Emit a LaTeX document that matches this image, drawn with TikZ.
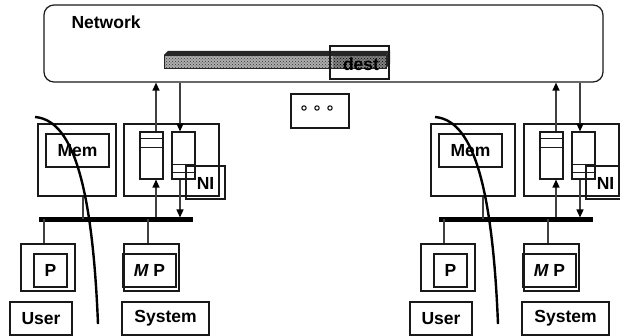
\documentclass[tikz,border=0pt]{standalone}
\usepackage{fontspec}
\setmainfont{Liberation Sans}
\usetikzlibrary{arrows.meta,patterns,calc}

\tikzset{
  box/.style={draw=black!90, line width=1.1pt, inner sep=0pt},
  lbl/.style={font=\fontsize{17.5}{20}\selectfont\bfseries},
  wire/.style={draw=black!75, line width=1.2pt},
  tipped/.style={wire, arrows={-{Triangle[length=8pt,width=7pt,color=black]}}},
  busline/.style={line width=4.5pt, draw=black},
  flow/.style={line width=2.4pt, draw=black},
}

% rectangle node given by its corners (left, top, right, bottom)
\newcommand\rbox[6][]{%
  \node[box,#1,minimum width={(#5-#3)*1pt},minimum height={(#6-#4)*1pt}]
    (#2) at ({(#3+#5)/2},{(#4+#6)/2}) {};}

% one station: memory, interface, bus, processors and domain labels
% #1 prefix, #2 horizontal offset, #3 #4 #5 #6 memory box edges
\newcommand\station[6]{%
  \begin{scope}[xshift=#2pt]
    \rbox{#1memO}{#3}{124}{#4}{196}
    \rbox{#1memI}{#5}{134}{#6}{167}
    \node[lbl] at (#1memI) {Mem};
    \rbox{#1niO}{124}{124}{219}{196}
    \rbox{#1qL}{140}{132}{163}{179}
    \rbox{#1qR}{172}{132}{195}{179}
    \draw[box] ($(#1qL.north west)+(0,7)$) -- ($(#1qL.north east)+(0,7)$)
               ($(#1qL.north west)+(0,16)$) -- ($(#1qL.north east)+(0,16)$)
               ($(#1qR.south west)+(0,-7)$) -- ($(#1qR.south east)+(0,-7)$)
               ($(#1qR.south west)+(0,-15)$) -- ($(#1qR.south east)+(0,-15)$);
    \rbox{#1ni}{186}{166}{225}{199}
    \node[lbl] at ($(#1ni)+(0,1)$) {NI};
    \coordinate (#1busL) at (39,219.5);
    \coordinate (#1busR) at (193,219.5);
    \draw[busline] (#1busL) -- (#1busR);
    \rbox{#1pO}{21}{244}{75}{291}
    \rbox{#1pI}{34}{254}{67}{287}
    \node[lbl] at (#1pI) {P};
    \rbox{#1mpO}{124}{244}{179}{291}
    \rbox{#1mpI}{123}{254}{176}{287}
    \node[lbl] at (#1mpI) {\itshape M\upshape\ P};
    \rbox{#1user}{10}{302}{72}{335}
    \node[lbl] at (#1user) {User};
    \rbox{#1sys}{122}{302}{209}{335}
    \node[lbl] at (#1sys) {System};
    % taps onto the bus
    \coordinate (#1xm) at (83,0);
    \coordinate (#1xp) at (44,0);
    \coordinate (#1xmp) at (148,0);
    \coordinate (#1xu) at (156,0);
    \coordinate (#1xd) at (180,0);
    \draw[wire] (#1memO.south -| #1xm) -- (#1busL -| #1xm);
    \draw[wire] (#1busL -| #1xp) -- (#1pO.north -| #1xp);
    \draw[wire] (#1busL -| #1xmp) -- (#1mpO.north -| #1xmp);
    % queues to and from the network
    \draw[tipped] (#1qL.north -| #1xu) -- (net.south -| #1xu);
    \draw[tipped] (net.south -| #1xd) -- (#1qR.north -| #1xd);
    \draw[tipped] ($(#1busL -| #1xu)+(0,-2)$) -- (#1qL.south -| #1xu);
    \draw[tipped] (#1qR.south -| #1xd) -- ($(#1busL -| #1xd)+(0,-2)$);
    % user / system boundary
    \coordinate (#1cs) at (35,117);
    \coordinate (#1ce) at (98,324);
    \draw[flow] (#1cs) .. controls (70,120) and (92,175) .. (#1ce);
  \end{scope}}

\begin{document}
\begin{tikzpicture}[x=1pt,y=-1pt]
  \clip (0,0) rectangle (620,336);
  \fill[white] (0,0) rectangle (620,336);

  % network cloud
  \node[box, line width=1.2pt, rounded corners=10pt, minimum width=559pt,
        minimum height=77pt] (net) at (323.5,43.5) {};
  \node[lbl, anchor=west] (netlbl) at (68,22) {Network};

  % message in flight: a 3-d bar, header part darker
  \coordinate (b1) at (164,55);
  \coordinate (b2) at (386,55);
  \coordinate (b3) at (386,68);
  \coordinate (b4) at (164,68);
  \coordinate (bd) at (333,55);
  \fill[black!85] (b1) -- (168,51) -- (390,51) -- (b2) -- cycle;
  \fill[black!85] (b2) -- (390,51) -- (390,64) -- (b3) -- cycle;
  \fill[black!32] (b1) rectangle (b3);
  \fill[pattern=crosshatch dots, pattern color=black!80] (b1) rectangle (bd |- b3);
  \fill[black!50] (bd) rectangle (b3);
  \fill[pattern=crosshatch dots, pattern color=black] (bd) rectangle (b3);
  \draw[black!85, line width=0.6pt] (b1) rectangle (b3);
  \node[box, minimum width=59pt, minimum height=33pt] (dest) at (359.5,62.5) {};
  \node[lbl] at (361,64) {dest};

  % further stations elided
  \node[box, minimum width=58pt, minimum height=34pt] (dots) at (320,111) {};
  \foreach \x in {304,317,330}
    \draw[line width=1pt] (\x,108) circle (2.2pt);

  \station{a}{0}{38}{116}{46}{109}
  \station{b}{400}{31}{115}{39}{102}
\end{tikzpicture}
\end{document}
